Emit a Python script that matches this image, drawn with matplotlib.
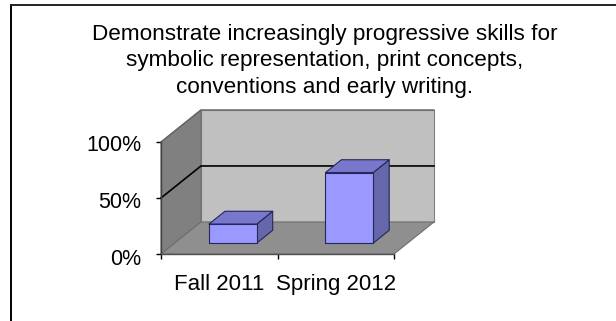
import matplotlib
matplotlib.use('Agg')
import matplotlib.pyplot as plt
from matplotlib.patches import Polygon
from matplotlib.transforms import ScaledTranslation

plt.rcParams['font.family'] = ['Liberation Sans', 'DejaVu Sans']

title = 'Demonstrate increasingly progressive skills for\nsymbolic representation, print concepts,\nconventions and early writing.'
categories = ['Fall 2011', 'Spring 2012']
values = [17, 63]
yticks = [0, 50, 100]
yticklabels = ['0%', '50%', '100%']

W, H = 616, 321
# depth of the 3d box in data units
DX = 0.343
DY = 28.6
BAR_W = 0.41
BAR_D0, BAR_D1 = 0.34, 0.74

def proj(x, y, d):
    return (x + DX * d, y + DY * d)

def quad(ax, pts, fc, ec='none', lw=0.0, z=1):
    ax.add_patch(Polygon([proj(*p) for p in pts], closed=True, fc=fc, ec=ec, lw=lw,
                         zorder=z, clip_on=False, joinstyle='round'))

fig = plt.figure(figsize=(W / 100, H / 100), dpi=100, facecolor='white')
ax = fig.add_axes([161 / W, 1 - 254 / H, 233 / W, 112 / H])
ax.set_xlim(0, 2)
ax.set_ylim(0, 100)
ax.patch.set_visible(False)
for s in ax.spines.values():
    s.set_visible(False)

# walls and floor
quad(ax, [(0, 0, 1), (2, 0, 1), (2, 100, 1), (0, 100, 1)], '#c0c0c0', '#808080', 0.8)
quad(ax, [(0, 0, 0), (0, 0, 1), (0, 100, 1), (0, 100, 0)], '#808080', '#6e6e6e', 0.8)
quad(ax, [(0, 0, 0), (2, 0, 0), (2, 0, 1), (0, 0, 1)], '#8f8f8f', '#6e6e6e', 0.8)

# gridlines running along the side wall and back wall
for v in yticks[1:]:
    lw = 1.2 if v == 50 else 1.0
    col = 'black' if v == 50 else '#666666'
    xs, ys = zip(proj(0, v, 0), proj(0, v, 1), proj(2, v, 1))
    ax.plot(xs, ys, color=col, lw=lw, clip_on=False, zorder=2)
ax.plot([0, 0], [0, 100], color='#404040', lw=1.0, clip_on=False, zorder=2)
ax.plot([0, 2], [0, 0], color='#505050', lw=1.0, clip_on=False, zorder=2)

# bars
for i, v in enumerate(values):
    x0 = i + 0.5 - BAR_W / 2
    x1 = x0 + BAR_W
    edge = '#26265a'
    quad(ax, [(x1, 0, BAR_D0), (x1, 0, BAR_D1), (x1, v, BAR_D1), (x1, v, BAR_D0)], '#6666aa', edge, 0.8, 3)
    quad(ax, [(x0, v, BAR_D0), (x1, v, BAR_D0), (x1, v, BAR_D1), (x0, v, BAR_D1)], '#7777cc', edge, 0.8, 3)
    quad(ax, [(x0, 0, BAR_D0), (x1, 0, BAR_D0), (x1, v, BAR_D0), (x0, v, BAR_D0)], '#9999ff', edge, 0.8, 4)

ax.set_yticks(yticks)
ax.set_yticklabels(yticklabels, fontsize=15.5)
ax.set_xticks([0, 1, 2])
ax.set_xticklabels([])
ax.set_xticks([0.5, 1.5], minor=True)
ax.set_xticklabels(categories, minor=True, fontsize=16)
ax.tick_params(axis='y', length=3.6, width=1, pad=10.5)
ax.tick_params(axis='x', which='major', length=3.6, width=1)
ax.tick_params(axis='x', which='minor', length=0, pad=14.5)

# nudge the percent labels slightly below their ticks
for lab, dy in zip(ax.get_yticklabels(), [3, 2, 1]):
    lab.set_transform(lab.get_transform() + ScaledTranslation(0, -dy / 100, fig.dpi_scale_trans))

fig.text(325 / W, 1 - 24 / H, title, ha='center', va='top', fontsize=16.2, linespacing=1.34)

# frame around the chart, only top and left fall inside the canvas
fig.add_artist(plt.Line2D([11 / W, 11 / W], [0, 1 - 5 / H], color='black', lw=1.4))
fig.add_artist(plt.Line2D([11 / W, 1], [1 - 5 / H, 1 - 5 / H], color='#222222', lw=1.4))

fig.savefig('out.png', dpi=100)
